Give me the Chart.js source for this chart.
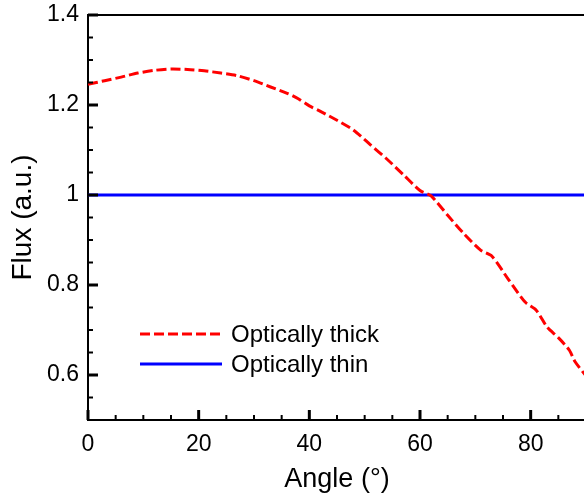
<!DOCTYPE html>
<html>
<head>
<meta charset="utf-8">
<script src="https://cdn.jsdelivr.net/npm/chart.js@4.4.1/dist/chart.umd.min.js"></script>
<style>
  html, body { margin: 0; padding: 0; overflow: hidden; background: #fff; }
  #c { display: block; }
</style>
</head>
<body>
<canvas id="c" width="590" height="498" style="width:590px;height:498px"></canvas>
<script>
// ---- data ----
const thickAngles = [0, 3, 6, 9, 12, 15, 18, 21, 24, 27, 30, 33, 36, 38, 40, 42, 45, 48, 51, 54, 57, 60, 62, 65, 68, 71, 73, 76, 79, 81, 83, 85, 87, 88, 90];
const thickFlux   = [1.246, 1.254, 1.262, 1.271, 1.277, 1.280, 1.279, 1.276, 1.271, 1.265, 1.254, 1.240, 1.226, 1.214, 1.198, 1.186, 1.166, 1.144, 1.112, 1.080, 1.045, 1.010, 0.998, 0.955, 0.913, 0.877, 0.864, 0.812, 0.762, 0.744, 0.706, 0.683, 0.655, 0.630, 0.598];
const thinAngles  = [0, 90];
const thinFlux    = [1, 1];
const seriesLabels = ['Optically thick', 'Optically thin'];
const xLabeledTicks = [0, 20, 40, 60, 80];
const yLabeledTicks = [0.6, 0.8, 1, 1.2, 1.4];
const xTitle = 'Angle (\u00b0)';
const yTitle = 'Flux (a.u.)';

const FONT = '"Liberation Sans", Arial, Helvetica, sans-serif';

function near(v, list) { return list.some(t => Math.abs(t - v) < 1e-6); }

const tickMarks = {
  id: 'tickMarks',
  afterDraw(chart) {
    const ctx = chart.ctx, a = chart.chartArea;
    const xs = chart.scales.x, ys = chart.scales.y;
    ctx.save();
    ctx.strokeStyle = '#000';
    ys.ticks.forEach(t => {
      const p = ys.getPixelForValue(t.value);
      const major = near(t.value, yLabeledTicks);
      ctx.lineWidth = major ? 3 : 2;
      ctx.beginPath();
      ctx.moveTo(a.left, p);
      ctx.lineTo(a.left + (major ? 10 : 5), p);
      ctx.stroke();
    });
    xs.ticks.forEach(t => {
      const p = xs.getPixelForValue(t.value);
      const major = near(t.value, xLabeledTicks);
      ctx.lineWidth = major ? 3 : 2;
      ctx.beginPath();
      ctx.moveTo(p, a.bottom);
      ctx.lineTo(p, a.bottom - (major ? 10 : 5));
      ctx.stroke();
    });
    ctx.lineWidth = 2;
    ctx.beginPath();
    ctx.moveTo(a.left, a.top);
    ctx.lineTo(a.right, a.top);
    ctx.lineTo(a.right, a.bottom);
    ctx.stroke();
    ctx.restore();
  }
};

const legendPlugin = {
  id: 'innerLegend',
  afterDraw(chart) {
    const ctx = chart.ctx, a = chart.chartArea;
    const x0 = a.left + 52, x1 = a.left + 134, tx = a.left + 143;
    const y0 = a.top + 319, gap = 30;
    ctx.save();
    chart.data.datasets.forEach((ds, i) => {
      const y = y0 + i * gap;
      ctx.strokeStyle = ds.borderColor;
      ctx.lineWidth = ds.borderWidth;
      ctx.setLineDash(ds.borderDash || []);
      ctx.beginPath();
      ctx.moveTo(x0, y);
      ctx.lineTo(x1, y);
      ctx.stroke();
      ctx.setLineDash([]);
      ctx.fillStyle = '#000';
      ctx.font = '24px ' + FONT;
      ctx.textBaseline = 'middle';
      ctx.textAlign = 'left';
      ctx.fillText(ds.label, tx, y + 1);
    });
    ctx.restore();
  }
};

new Chart(document.getElementById('c'), {
  type: 'line',
  data: {
    datasets: [
      {
        label: seriesLabels[0],
        data: thickAngles.map((x, i) => ({ x: x, y: thickFlux[i] })),
        borderColor: '#ff0000',
        borderWidth: 3,
        borderDash: [10, 4],
        pointRadius: 0,
        tension: 0.25,
        fill: false
      },
      {
        label: seriesLabels[1],
        data: thinAngles.map((x, i) => ({ x: x, y: thinFlux[i] })),
        borderColor: '#0000ff',
        borderWidth: 3,
        pointRadius: 0,
        tension: 0,
        fill: false
      }
    ]
  },
  options: {
    responsive: false,
    animation: false,
    events: [],
    layout: { padding: { left: 0, right: 4, top: 15, bottom: 0 } },
    plugins: { legend: { display: false }, tooltip: { enabled: false } },
    scales: {
      x: {
        type: 'linear',
        min: 0, max: 90,
        afterFit(s) { s.height = 78; s.paddingLeft = 0; s.paddingRight = 0; },
        grid: { display: false, drawTicks: false },
        border: { display: true, color: '#000', width: 2 },
        ticks: {
          stepSize: 5,
          autoSkip: false,
          maxRotation: 0,
          padding: 11,
          color: '#000',
          font: { family: FONT, size: 23 },
          callback: v => near(v, xLabeledTicks) ? String(v) : ''
        },
        title: {
          display: true, text: xTitle, color: '#000',
          font: { family: FONT, size: 27 },
          padding: { top: 0, bottom: 2 }
        }
      },
      y: {
        type: 'linear',
        min: 0.5, max: 1.4,
        afterFit(s) { s.width = 88; s.paddingTop = 0; s.paddingBottom = 0; },
        grid: { display: false, drawTicks: false },
        border: { display: true, color: '#000', width: 2 },
        ticks: {
          stepSize: 0.05,
          autoSkip: false,
          padding: 9,
          color: '#000',
          font: { family: FONT, size: 23 },
          callback: v => near(v, yLabeledTicks) ? String(Math.round(v * 10) / 10) : ''
        },
        title: {
          display: true, text: yTitle, color: '#000',
          font: { family: FONT, size: 28 },
          padding: { top: 6, bottom: 0 }
        }
      }
    }
  },
  plugins: [tickMarks, legendPlugin]
});
</script>
</body>
</html>
